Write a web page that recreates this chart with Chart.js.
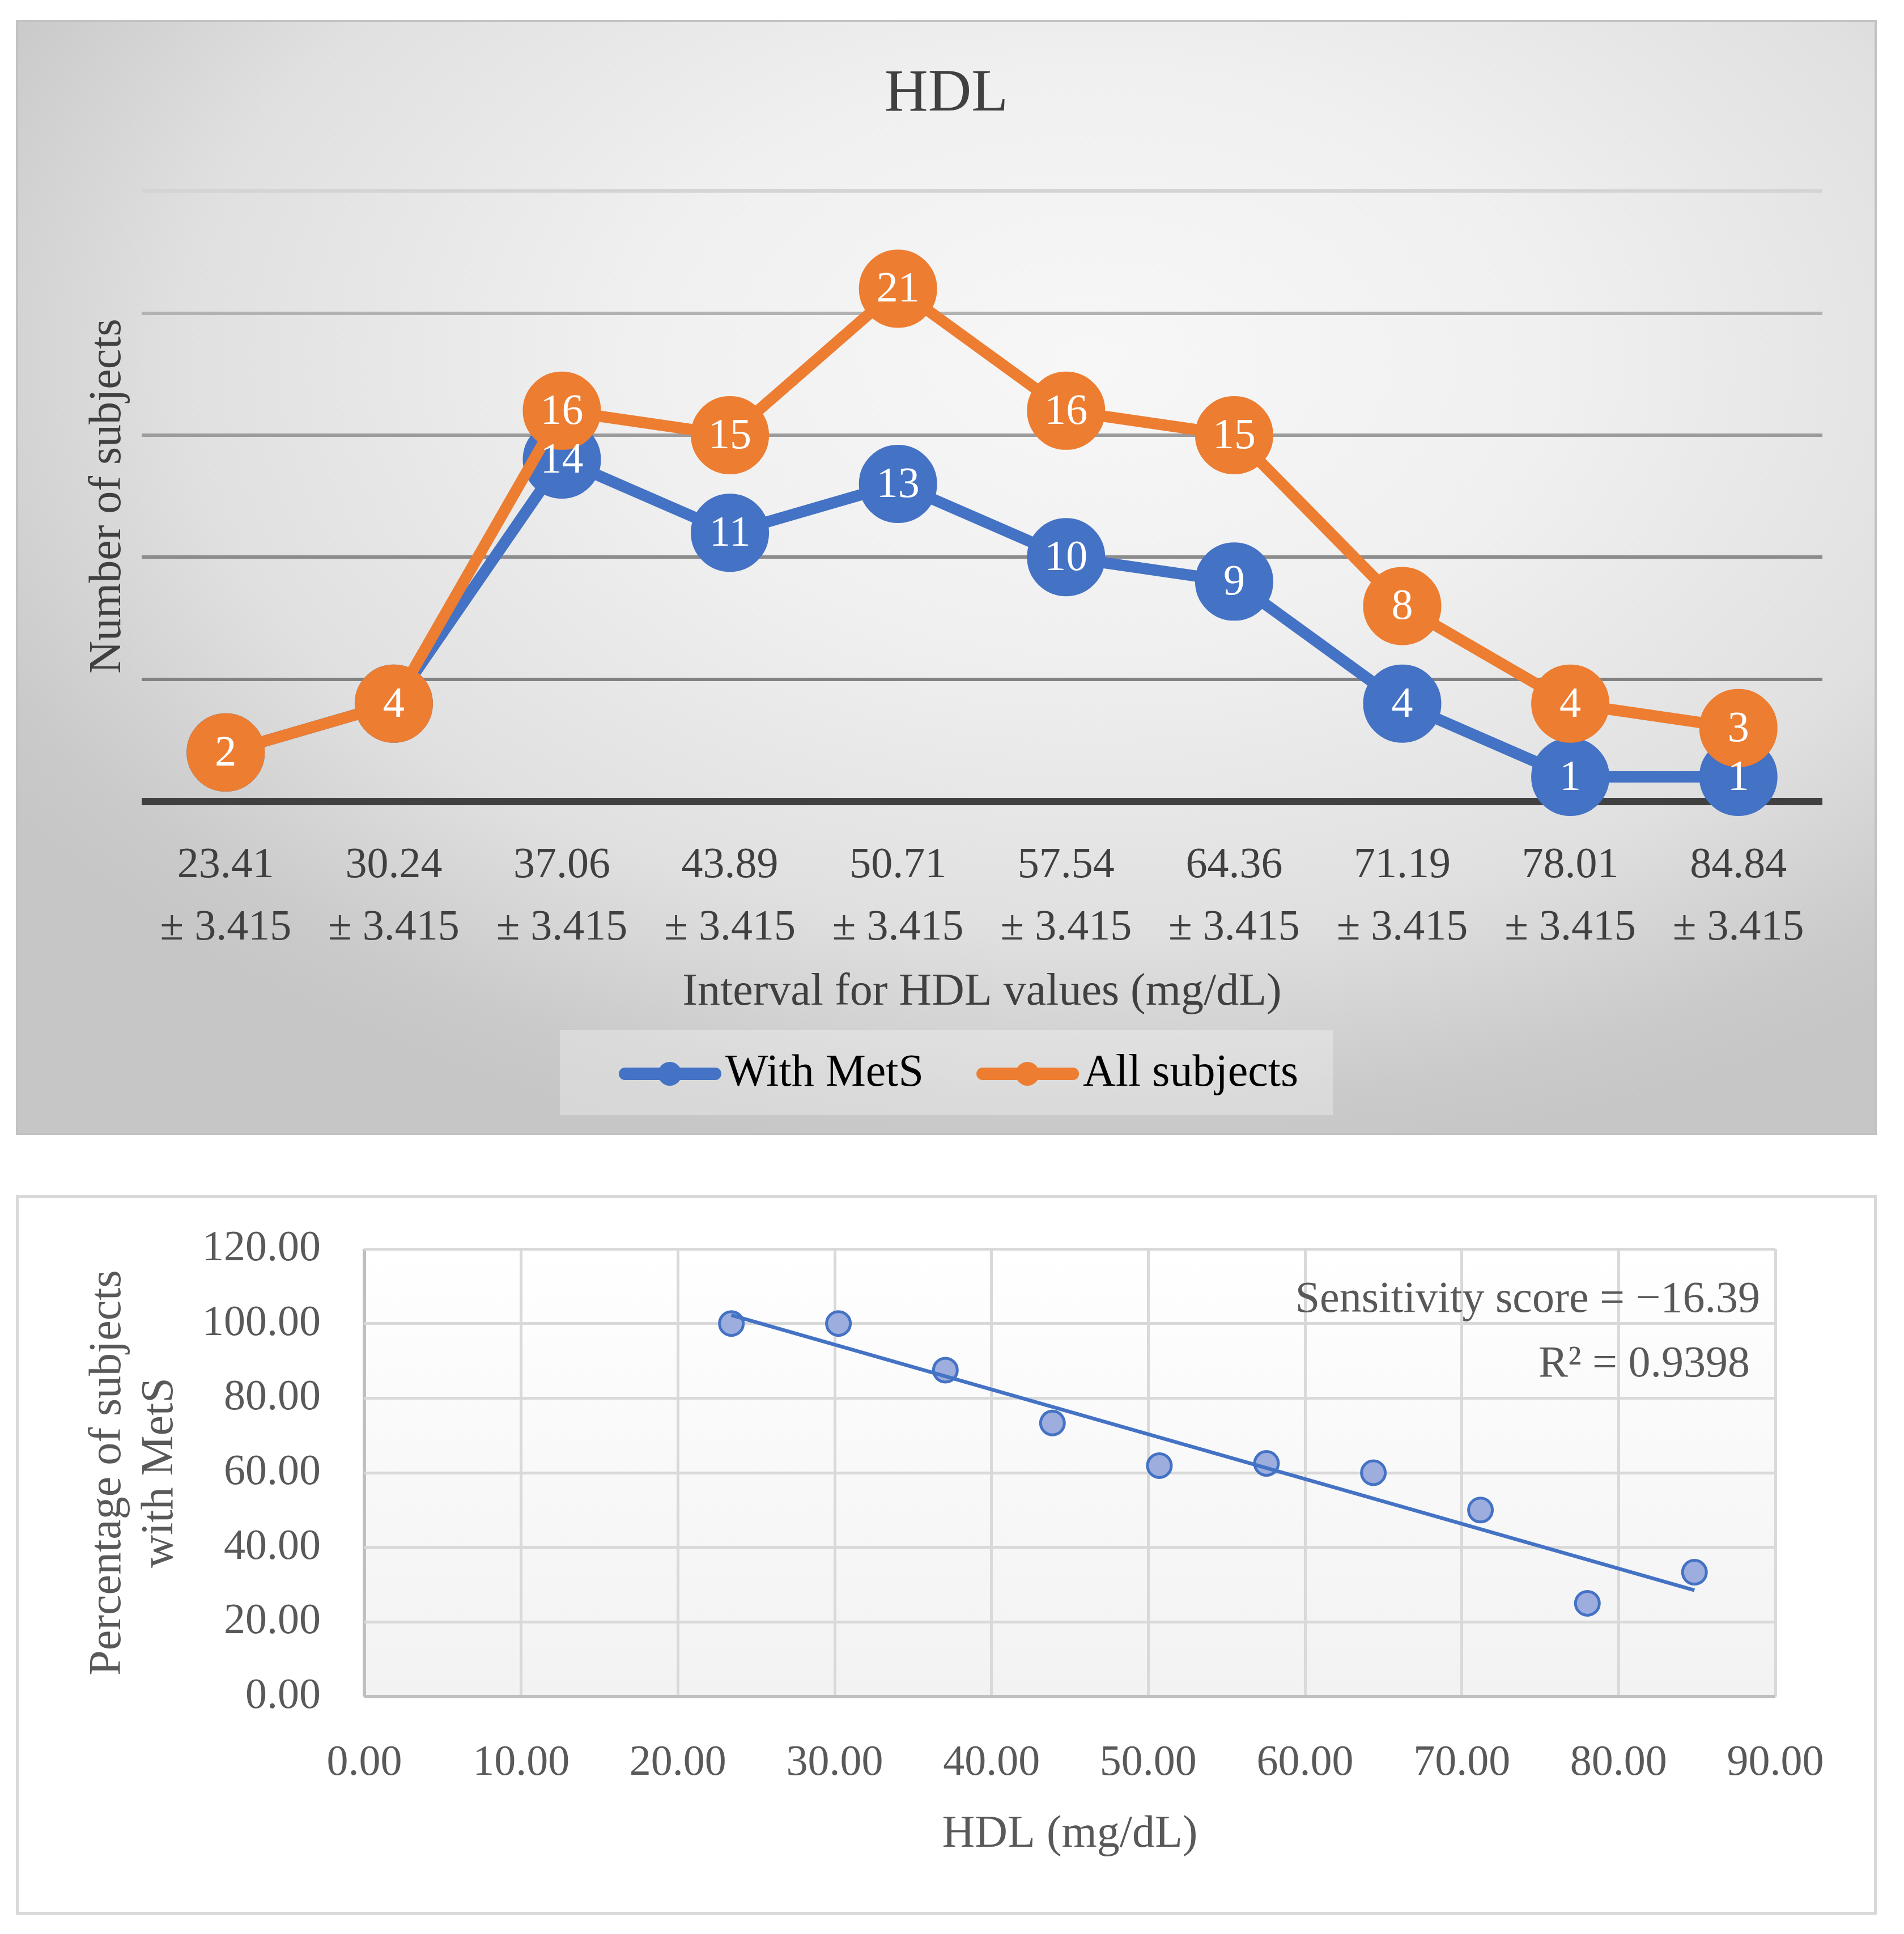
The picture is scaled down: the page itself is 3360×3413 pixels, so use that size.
<!DOCTYPE html>
<html><head><meta charset="utf-8">
<script src="https://cdn.jsdelivr.net/npm/chart.js@4.4.1/dist/chart.umd.min.js"></script>
<style>
html,body{margin:0;padding:0;background:#fff;width:3360px;height:3413px;overflow:hidden;}
canvas{position:absolute;display:block;}
#c1{left:28px;top:35px;}
#c2{left:28px;top:2109px;}
</style></head><body>
<canvas id="c1" width="3284" height="1968" style="width:3284px;height:1968px"></canvas>
<canvas id="c2" width="3284" height="1270" style="width:3284px;height:1270px"></canvas>
<script>
// ---------- data ----------
const hdlMid = [23.41, 30.24, 37.06, 43.89, 50.71, 57.54, 64.36, 71.19, 78.01, 84.84];
const halfWidth = '± 3.415';
const categories = hdlMid.map(v => [v.toFixed(2), halfWidth]);
const withMetS = [2, 4, 14, 11, 13, 10, 9, 4, 1, 1];
const allSubjects = [2, 4, 16, 15, 21, 16, 15, 8, 4, 3];
const pctWithMetS = [100.00, 100.00, 87.50, 73.33, 61.90, 62.50, 60.00, 50.00, 25.00, 33.33];
const seriesNames = ['With MetS', 'All subjects'];
const sensitivityText = 'Sensitivity score = \u221216.39';
const r2Text = 'R\u00B2 = 0.9398';

const BLUE = '#4472c4';
const ORANGE = '#ed7d31';
const FONT = "'Liberation Serif', 'Times New Roman', serif";
Chart.defaults.font.family = FONT;
Chart.defaults.color = '#404040';

// ---------- chart 1 ----------
function legendSample(color) {
  const c = document.createElement('canvas');
  c.width = 257; c.height = 48;
  const x = c.getContext('2d');
  x.strokeStyle = color; x.fillStyle = color;
  x.lineWidth = 22; x.lineCap = 'round';
  x.beginPath(); x.moveTo(76 + 11, 24); x.lineTo(257 - 11, 24); x.stroke();
  x.beginPath(); x.arc(76 + 90, 24, 21, 0, Math.PI * 2); x.fill();
  return c;
}
const samples = [legendSample(BLUE), legendSample(ORANGE)];

const bg1 = {
  id: 'bg1',
  beforeDraw(chart) {
    const {ctx, width, height} = chart;
    ctx.save();
    ctx.save();
    ctx.translate(1900, 600);
    ctx.scale(1, 1 / 1.6);
    const g = ctx.createRadialGradient(0, 0, 0, 0, 0, 2300);
    g.addColorStop(0, '#f7f7f7');
    g.addColorStop(0.35, '#f0f0f0');
    g.addColorStop(0.7, '#e0e0e0');
    g.addColorStop(0.8, '#d6d6d6');
    g.addColorStop(0.92, '#cacaca');
    g.addColorStop(1, '#c6c6c6');
    ctx.fillStyle = g;
    ctx.fillRect(-1900, -600 * 1.6, width, height * 1.6);
    ctx.restore();
    ctx.strokeStyle = '#c2c2c2'; ctx.lineWidth = 4;
    ctx.strokeRect(2, 2, width - 4, height - 4);
    const lg = chart.legend;
    ctx.fillStyle = 'rgba(255,255,255,0.3)';
    ctx.fillRect(width / 2 - 682, lg.top + 13, 1364, 150);
    ctx.restore();
  }
};

const valueLabels = {
  id: 'valueLabels',
  afterDatasetsDraw(chart) {
    const {ctx} = chart;
    ctx.save();
    ctx.font = '76px ' + FONT;
    ctx.fillStyle = '#ffffff';
    ctx.textAlign = 'center';
    ctx.textBaseline = 'middle';
    chart.data.datasets.forEach((ds, i) => {
      const meta = chart.getDatasetMeta(i);
      meta.data.forEach((pt, j) => ctx.fillText(String(ds.data[j]), pt.x, pt.y + 3));
    });
    ctx.restore();
  }
};

const gridColor1 = {0: '#404040', 5: '#828282', 10: '#8c8c8c', 15: '#9c9c9c', 20: '#b2b2b2', 25: '#d4d4d4'};

new Chart(document.getElementById('c1'), {
  type: 'line',
  data: {
    labels: categories,
    datasets: [
      {label: seriesNames[0], data: withMetS, borderColor: BLUE, backgroundColor: BLUE,
       borderWidth: 20, pointRadius: 67, pointBorderWidth: 4, pointBackgroundColor: BLUE,
       pointBorderColor: BLUE, order: 1, tension: 0, clip: false},
      {label: seriesNames[1], data: allSubjects, borderColor: ORANGE, backgroundColor: ORANGE,
       borderWidth: 20, pointRadius: 67, pointBorderWidth: 4, pointBackgroundColor: ORANGE,
       pointBorderColor: ORANGE, order: 0, tension: 0, clip: false}
    ]
  },
  options: {
    responsive: false, animation: false, events: [],
    layout: {padding: {left: 0, right: 0, top: 0, bottom: 58}},
    plugins: {
      tooltip: {enabled: false},
      title: {display: true, text: 'HDL', color: '#404040',
              font: {size: 106, weight: 'normal', lineHeight: 1.2}, padding: {top: 69, bottom: 106}},
      legend: {
        position: 'bottom',
        labels: {
          usePointStyle: true, pointStyleWidth: 191, padding: 50, color: '#404040',
          font: {size: 80},
          sort: (a, b) => a.datasetIndex - b.datasetIndex,
          generateLabels: (chart) => chart.data.datasets.map((ds, i) => ({
            text: ds.label, pointStyle: samples[i], fillStyle: ds.borderColor,
            strokeStyle: ds.borderColor, lineWidth: 0, datasetIndex: i, hidden: false
          }))
        }
      }
    },
    scales: {
      x: {
        offset: true,
        grid: {display: false, drawTicks: false},
        border: {display: false},
        ticks: {color: '#404040', font: {size: 76, lineHeight: 1.45}, padding: 59, maxRotation: 0, autoSkip: false},
        title: {display: true, text: 'Interval for HDL values (mg/dL)', color: '#404040',
                font: {size: 80, lineHeight: 1.2}, padding: {top: 0, bottom: 5}},
        afterFit(s) { s.height = 391; }
      },
      y: {
        min: 0, max: 25,
        ticks: {display: false, stepSize: 5},
        grid: {color: c => gridColor1[c.tick.value] || '#999', lineWidth: c => c.tick.value === 0 ? 13 : 6, drawTicks: false},
        border: {display: false},
        title: {display: true, text: 'Number of subjects', color: '#404040',
                font: {size: 80, lineHeight: 1.2}, padding: {top: 115, bottom: 0}},
        afterFit(s) { s.width = 222; }
      },
      yRight: {
        position: 'right', display: true,
        ticks: {display: false}, grid: {display: false, drawTicks: false}, border: {display: false},
        afterFit(s) { s.width = 96; }
      }
    }
  },
  plugins: [bg1, valueLabels]
});

// ---------- chart 2 ----------
const n = hdlMid.length;
const mx = hdlMid.reduce((a, b) => a + b, 0) / n;
const my = pctWithMetS.reduce((a, b) => a + b, 0) / n;
let sxy = 0, sxx = 0;
for (let i = 0; i < n; i++) { sxy += (hdlMid[i] - mx) * (pctWithMetS[i] - my); sxx += (hdlMid[i] - mx) ** 2; }
const slope = sxy / sxx, icpt = my - slope * mx;
const trend = [hdlMid[0], hdlMid[n - 1]].map(x => ({x, y: icpt + slope * x}));

const bg2 = {
  id: 'bg2',
  beforeDraw(chart) {
    const {ctx, width, height, chartArea: a} = chart;
    ctx.save();
    ctx.fillStyle = '#ffffff'; ctx.fillRect(0, 0, width, height);
    const g = ctx.createLinearGradient(0, a.top, 0, a.bottom);
    g.addColorStop(0, '#ffffff'); g.addColorStop(1, '#f2f2f2');
    ctx.fillStyle = g; ctx.fillRect(a.left, a.top, a.width, a.height);
    ctx.strokeStyle = '#d9d9d9'; ctx.lineWidth = 5;
    ctx.strokeRect(2.5, 2.5, width - 5, height - 5);
    ctx.restore();
  }
};
const annot = {
  id: 'annot',
  afterDraw(chart) {
    const {ctx} = chart;
    ctx.save();
    ctx.font = '78px ' + FONT;
    ctx.fillStyle = '#595959';
    ctx.textAlign = 'right';
    ctx.textBaseline = 'alphabetic';
    ctx.fillText(sensitivityText, 3078, 206);
    ctx.fillText(r2Text, 3060, 320);
    ctx.restore();
  }
};

new Chart(document.getElementById('c2'), {
  type: 'scatter',
  data: {
    datasets: [
      {label: 'Percentage of subjects with MetS', data: hdlMid.map((x, i) => ({x, y: pctWithMetS[i]})),
       pointRadius: 21, pointBorderWidth: 5, pointBackgroundColor: '#9cadde', pointBorderColor: BLUE, order: 1, clip: false},
      {type: 'line', label: 'Linear trend', data: trend, borderColor: BLUE, borderWidth: 6.5,
       pointRadius: 0, order: 0, fill: false, clip: false}
    ]
  },
  options: {
    responsive: false, animation: false, events: [],
    layout: {padding: {left: 0, right: 179, top: 95, bottom: 0}},
    plugins: {legend: {display: false}, tooltip: {enabled: false}},
    scales: {
      x: {
        type: 'linear', min: 0, max: 90,
        ticks: {stepSize: 10, callback: v => v.toFixed(2), color: '#595959', font: {size: 76}, padding: 72, maxRotation: 0},
        grid: {color: c => c.tick.value === 0 ? '#bfbfbf' : '#d9d9d9', lineWidth: c => c.tick.value === 0 ? 6 : 5, drawTicks: false},
        border: {display: false},
        title: {display: true, text: 'HDL (mg/dL)', color: '#595959', font: {size: 80, lineHeight: 1.2}, padding: {top: 0, bottom: 93}},
        afterFit(s) { s.height = 385; }
      },
      y: {
        min: 0, max: 120,
        ticks: {stepSize: 20, callback: v => v.toFixed(2), color: '#595959', font: {size: 76}, padding: 0},
        grid: {color: c => c.tick.value === 0 ? '#bfbfbf' : '#d9d9d9', lineWidth: c => c.tick.value === 0 ? 6 : 5,
               drawTicks: true, tickLength: 77, tickColor: 'rgba(0,0,0,0)'},
        border: {display: false},
        title: {display: true, text: ['Percentage of subjects', 'with MetS'], color: '#595959',
                font: {size: 80, lineHeight: 1.15}, padding: {top: 117, bottom: 0}},
        afterFit(s) { s.width = 615; }
      }
    }
  },
  plugins: [bg2, annot]
});
</script>
</body></html>
